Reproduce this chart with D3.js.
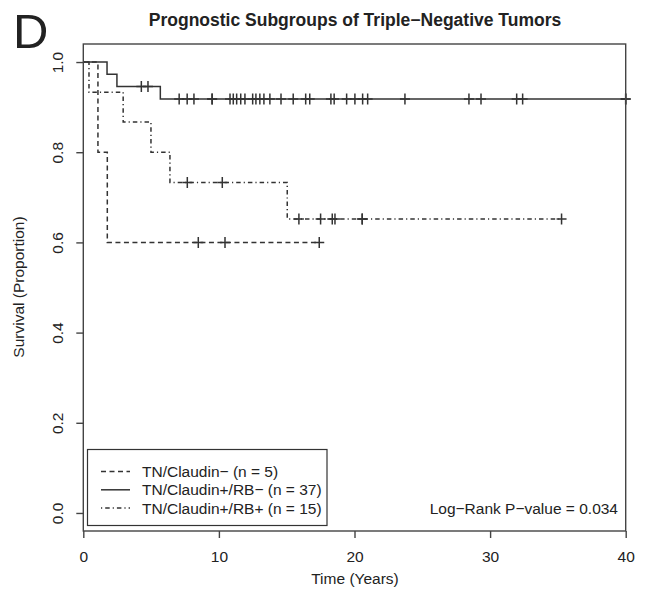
<!DOCTYPE html>
<html>
<head>
<meta charset="utf-8">
<script src="https://cdn.jsdelivr.net/npm/d3@7"></script>
<style>
  body { margin: 0; background: #fff; }
  text { font-family: "Liberation Sans", Arial, sans-serif; fill: #222; }
</style>
</head>
<body>
<svg id="km" width="647" height="591"></svg>
<script>
// Kaplan-Meier steps (time in years, survival proportion)
var claudinNegTimes = [0, 1.08, 1.77];
var claudinNegSurv = [1, 0.8, 0.6];
var claudinNegCensor = [8.48, 10.45, 17.4];

var rbNegTimes = [0, 1.75, 2.48, 5.68];
var rbNegSurv = [1, 0.973, 0.946, 0.918];
var rbNegCensor = [4.28, 4.77, 7.07, 7.66, 8.16, 9.5, 9.5, 10.82, 11.06, 11.31, 11.61, 11.92,
  12.49, 12.73, 13.02, 13.32, 13.76, 14.58, 15.48, 16.4, 16.7, 18.26, 18.5, 19.42, 20.03,
  20.6, 20.97, 23.72, 28.44, 29.33, 31.96, 32.4, 40, 40];

var rbPosTimes = [0, 0.42, 2.94, 4.99, 6.39, 15.04];
var rbPosSurv = [1, 0.933, 0.867, 0.8, 0.733, 0.652];
var rbPosCensor = [7.67, 10.25, 15.9, 17.5, 18.36, 18.56, 20.57, 20.57, 35.27];

var legendLabels = ["TN/Claudin\u2212 (n = 5)", "TN/Claudin+/RB\u2212 (n = 37)", "TN/Claudin+/RB+ (n = 15)"];
var xTicks = [0, 10, 20, 30, 40];
var yTicks = [0, 0.2, 0.4, 0.6, 0.8, 1.0];

var svg = d3.select("#km");
var ink = "#333";
var fs = 15.5;

var x = d3.scaleLinear().domain([0, 40]).range([83.3, 625.7]);
var y = d3.scaleLinear().domain([-0.04, 1.04]).range([531, 44]);

var curves = [
  {times: claudinNegTimes, surv: claudinNegSurv, censor: claudinNegCensor, dash: "5,3.5"},
  {times: rbNegTimes, surv: rbNegSurv, censor: rbNegCensor, dash: null},
  {times: rbPosTimes, surv: rbPosSurv, censor: rbPosCensor, dash: "1.2,3,4.5,3"}
];

var step = d3.line()
  .x(function (d) { return x(d[0]); })
  .y(function (d) { return y(d[1]); })
  .curve(d3.curveStepAfter);

curves.forEach(function (c) {
  var pts = c.times.map(function (t, i) { return [t, c.surv[i]]; });
  var end = Math.max(d3.max(c.censor), d3.max(c.times));
  pts.push([end, c.surv[c.surv.length - 1]]);
  svg.append("path")
    .attr("d", step(pts))
    .attr("fill", "none")
    .attr("stroke", ink)
    .attr("stroke-width", 1.5)
    .attr("stroke-dasharray", c.dash);

  // censor marks (+)
  c.censor.forEach(function (t) {
    var i = d3.bisectRight(c.times, t) - 1;
    var cx = x(t), cy = y(c.surv[i]);
    svg.append("path")
      .attr("d", "M" + (cx - 5) + "," + cy + "H" + (cx + 5) + "M" + cx + "," + (cy - 5.5) + "V" + (cy + 5.5))
      .attr("stroke", ink)
      .attr("stroke-width", 1.5);
  });
});

// plot box
svg.append("rect")
  .attr("x", x(0)).attr("y", y(1.04))
  .attr("width", x(40) - x(0)).attr("height", y(-0.04) - y(1.04))
  .attr("fill", "none").attr("stroke", "#444").attr("stroke-width", 1.4);

// axes
var xAxis = svg.append("g").attr("transform", "translate(0," + y(-0.04) + ")")
  .call(d3.axisBottom(x).tickValues(xTicks).tickSize(7).tickPadding(13).tickFormat(d3.format("d")));
var yAxis = svg.append("g").attr("transform", "translate(" + x(0) + ",0)")
  .call(d3.axisLeft(y).tickValues(yTicks).tickSize(7).tickPadding(0).tickFormat(d3.format(".1f")));
[xAxis, yAxis].forEach(function (g) {
  g.select(".domain").remove();
  g.selectAll("line").attr("stroke", "#444").attr("stroke-width", 1.4);
  g.selectAll("text").attr("font-size", fs).attr("fill", "#222")
    .style("font-family", "'Liberation Sans', Arial, sans-serif");
});
yAxis.selectAll("text")
  .attr("text-anchor", "middle")
  .attr("x", 0).attr("dy", 0)
  .attr("transform", "translate(-20,0) rotate(-90)");

// titles
svg.append("text").attr("x", 355).attr("y", 26).attr("text-anchor", "middle")
  .attr("font-size", 17.5).attr("font-weight", "bold")
  .text("Prognostic Subgroups of Triple\u2212Negative Tumors");
svg.append("text").attr("x", 13).attr("y", 48).attr("font-size", 49).text("D");
svg.append("text").attr("x", 355).attr("y", 584).attr("text-anchor", "middle")
  .attr("font-size", fs).text("Time (Years)");
svg.append("text").attr("transform", "translate(24,287) rotate(-90)").attr("text-anchor", "middle")
  .attr("font-size", fs).text("Survival (Proportion)");

// legend
var lg = svg.append("g");
lg.append("rect").attr("x", 87.5).attr("y", 449.5).attr("width", 239.5).attr("height", 76)
  .attr("fill", "#fff").attr("stroke", "#333").attr("stroke-width", 1.2);
legendLabels.forEach(function (lab, i) {
  var ly = 471.5 + i * 18.3;
  lg.append("line").attr("x1", 101).attr("x2", 130).attr("y1", ly).attr("y2", ly)
    .attr("stroke", ink).attr("stroke-width", 1.5).attr("stroke-dasharray", curves[i].dash);
  lg.append("text").attr("x", 142).attr("y", ly + 5.5).attr("font-size", fs).text(lab);
});

svg.append("text").attr("x", 618).attr("y", 514).attr("text-anchor", "end")
  .attr("font-size", fs).text("Log\u2212Rank P\u2212value = 0.034");
</script>
</body>
</html>
